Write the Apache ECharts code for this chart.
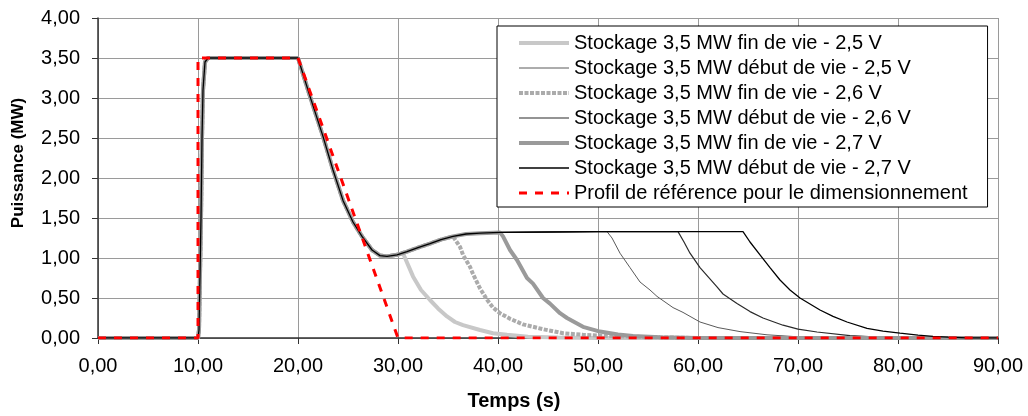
<!DOCTYPE html>
<html>
<head>
<meta charset="utf-8">
<script src="https://cdn.jsdelivr.net/npm/echarts@6/dist/echarts.min.js"></script>
<style>
html,body{margin:0;padding:0;background:#fff;}
#chart{width:1028px;height:416px;}
</style>
</head>
<body>
<div id="chart"></div>
<script>
// Shared path (all storage series follow it until they depart)
var commonPath = [[0,0],[10,0],[10.1,0.1],[10.3,1.5],[10.4,2.5],[10.5,3.1],[10.7,3.45],[11,3.5],[20,3.5],
  [21.2,3.02],[22.5,2.52],[23.5,2.1],[24.5,1.72],[25.5,1.45],[26.4,1.27],[27.4,1.1],[28.2,1.03],[28.9,1.02],
  [29.9,1.04],[30.9,1.08],[32,1.13],[33.2,1.18],[34.3,1.23],[35.5,1.27],[36.8,1.3],[38.2,1.31],[40.2,1.32],
  [45,1.325],[50,1.33],[55,1.33],[60,1.33],[64.5,1.33]];

var tailFin25 = [[30.5,1.06],[31.5,0.77],[32.3,0.6],[33.2,0.475],[34.0,0.37],[34.9,0.27],[35.7,0.2],[36.5,0.16],
  [38.2,0.1],[39.5,0.06],[40.9,0.04],[43,0.015],[46,0.005],[50,0],[90,0]];
var tailDeb25 = [[50.9,1.33],[51.4,1.25],[52.2,1.06],[53.2,0.88],[54.2,0.7],[55.2,0.6],[55.9,0.52],[57.5,0.38],
  [58.5,0.32],[60.2,0.2],[62,0.13],[64.2,0.08],[66.9,0.04],[70,0.015],[75,0.005],[80,0],[90,0]];
var tailFin26 = [[35.7,1.27],[36.2,1.14],[36.5,1.04],[37.2,0.89],[37.5,0.8],[38.2,0.62],[38.9,0.48],[39.5,0.38],
  [40.2,0.31],[41.2,0.24],[42.5,0.17],[44.5,0.11],[46.5,0.06],[48.5,0.04],[51.2,0.025],[55,0.01],[60,0],[90,0]];
var tailDeb26 = [[58.0,1.33],[58.6,1.2],[59.2,1.06],[60.2,0.88],[61.9,0.64],[62.5,0.55],[63.9,0.43],[65.2,0.33],
  [66.5,0.25],[68.5,0.16],[70,0.11],[71.9,0.075],[75.2,0.03],[78,0.01],[82,0],[90,0]];
var tailFin27 = [[40.2,1.32],[40.5,1.27],[41.2,1.1],[41.9,0.975],[42.9,0.75],[43.5,0.68],[44.5,0.5],[45.2,0.43],
  [46.2,0.31],[46.9,0.25],[48.5,0.14],[50.2,0.08],[52,0.045],[53.5,0.025],[56.2,0.01],[60,0],[90,0]];
var tailDeb27 = [[64.5,1.33],[65.2,1.2],[66.2,1.04],[67.2,0.88],[68.2,0.725],[69.2,0.6],[70.2,0.5],[72.2,0.35],
  [73.5,0.27],[74.9,0.2],[76.9,0.12],[78.5,0.085],[80.2,0.06],[82,0.035],[83.5,0.02],[85,0.01],[87,0],[90,0]];
var referenceProfile = [[0,0],[10,0],[10,3.5],[20,3.5],[30,0],[90,0]];

var seriesNames = [
  'Stockage 3,5 MW fin de vie - 2,5 V',
  'Stockage 3,5 MW début de vie - 2,5 V',
  'Stockage 3,5 MW fin de vie - 2,6 V',
  'Stockage 3,5 MW début de vie - 2,6 V',
  'Stockage 3,5 MW fin de vie - 2,7 V',
  'Stockage 3,5 MW début de vie - 2,7 V',
  'Profil de référence pour le dimensionnement'
];
var xTicks = {min:0, max:90, interval:10};
var yTicks = {min:0, max:4, interval:0.5};

function build(tail){
  var t0 = tail[0][0];
  return commonPath.filter(function(p){return p[0] < t0;}).concat(tail);
}
var tails = [tailFin25, tailDeb25, tailFin26, tailDeb26, tailFin27, tailDeb27];
var styles = [
  {color:'#c8c8c8', width:4, type:'solid'},
  {color:'#5a5a5a', width:1, type:'solid'},
  {color:'#ababab', width:4, type:[4,1.5]},
  {color:'#2a2a2a', width:1.2, type:'solid'},
  {color:'#9a9a9a', width:4, type:'solid'},
  {color:'#000000', width:1.3, type:'solid'}
];
var redStyle = {color:'#ff0000', width:3, type:[8,8]};
var FONT = 'Arial, "Liberation Sans", sans-serif';
var fmt = function(v){ return v.toFixed(2).replace('.', ','); };

var series = tails.map(function(t,i){
  return {
    name: seriesNames[i], type:'line', data: build(t), symbol:'none', showSymbol:false,
    lineStyle: styles[i], itemStyle:{color: styles[i].color}, animation:false, z: 2+i
  };
});
series.push({
  name: seriesNames[6], type:'line', data: referenceProfile, symbol:'none',
  lineStyle: redStyle, itemStyle:{color:'#ff0000'}, animation:false, z:10
});

var legendData = seriesNames.map(function(n,i){
  var s = i < 6 ? styles[i] : redStyle;
  return {name:n, lineStyle:{color:s.color, width:s.width, type:s.type}, itemStyle:{opacity:0}};
});

var chart = echarts.init(document.getElementById('chart'), null, {renderer:'canvas'});
chart.setOption({
  animation:false,
  backgroundColor:'#ffffff',
  grid:{left:98, right:30, top:18, bottom:78, containLabel:false},
  xAxis:{
    type:'value', min:xTicks.min, max:xTicks.max, interval:xTicks.interval,
    axisLine:{show:true, onZero:false, lineStyle:{color:'#333', width:1.5}},
    axisTick:{show:true, length:6, inside:false, lineStyle:{color:'#333'}},
    axisLabel:{formatter:fmt, color:'#000', fontSize:20, fontFamily:FONT, margin:18},
    splitLine:{show:true, lineStyle:{color:'#9a9a9a', width:1}}
  },
  yAxis:{
    type:'value', min:yTicks.min, max:yTicks.max, interval:yTicks.interval,
    axisLine:{show:true, lineStyle:{color:'#333', width:1.5}},
    axisTick:{show:true, length:6, inside:false, lineStyle:{color:'#333'}},
    axisLabel:{formatter:fmt, color:'#000', fontSize:20, fontFamily:FONT, margin:18},
    splitLine:{show:true, lineStyle:{color:'#9a9a9a', width:1}}
  },
  legend:{
    orient:'vertical', left:497, top:26, data:legendData,
    backgroundColor:'#fff', borderColor:'#000', borderWidth:1,
    padding:[7,20,4,20], itemGap:5, itemWidth:50, itemHeight:14,
    itemStyle:{opacity:0},
    textStyle:{fontSize:20, fontFamily:FONT, color:'#000', lineHeight:20}
  },
  graphic:[
    {type:'text', left:'center', top:391, style:{text:'Temps (s)', font:'bold 20px '+FONT, fill:'#000'}},
    {type:'text', x:18, y:163, rotation:Math.PI/2, style:{text:'Puissance (MW)', font:'bold 17px '+FONT, fill:'#000', align:'center', verticalAlign:'middle'}}
  ],
  series: series
});
</script>
</body>
</html>
